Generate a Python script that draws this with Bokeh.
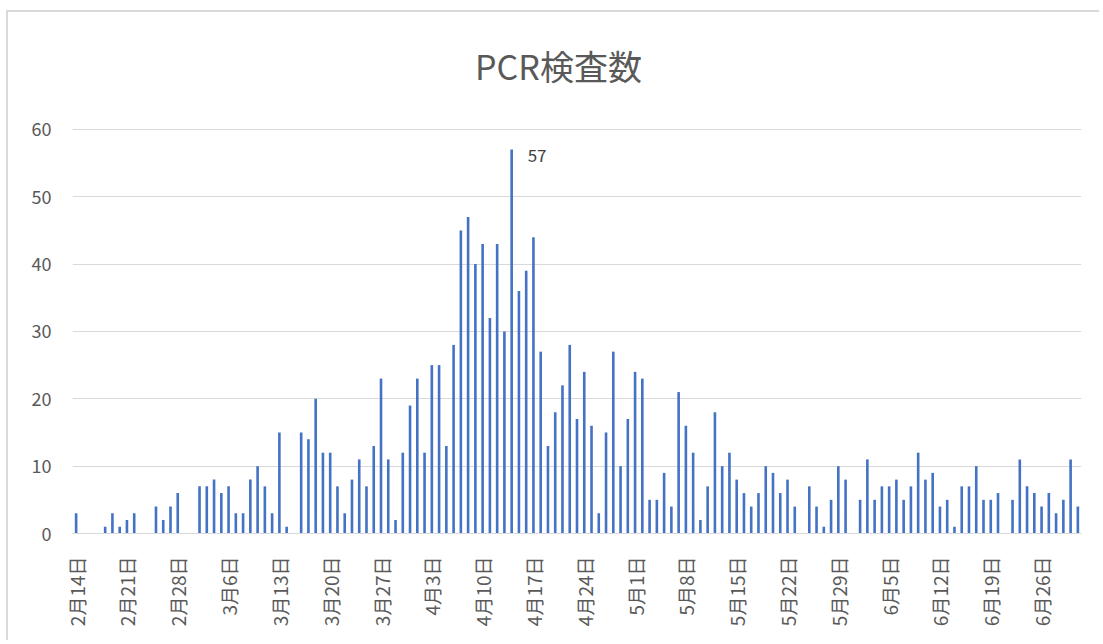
import pandas as pd
from bokeh.plotting import figure
from bokeh.models import ColumnDataSource, FixedTicker, Label, Range1d
from bokeh.embed import file_html
from bokeh.resources import INLINE

# ---- data ----
start_date = "2020-02-14"
pcr_counts = [
    3, 0, 0, 0, 1, 3, 1, 2, 3, 0,
    0, 4, 2, 4, 6, 0, 0, 7, 7, 8,
    6, 7, 3, 3, 8, 10, 7, 3, 15, 1,
    0, 15, 14, 20, 12, 12, 7, 3, 8, 11,
    7, 13, 23, 11, 2, 12, 19, 23, 12, 25,
    25, 13, 28, 45, 47, 40, 43, 32, 43, 30,
    57, 36, 39, 44, 27, 13, 18, 22, 28, 17,
    24, 16, 3, 15, 27, 10, 17, 24, 23, 5,
    5, 9, 4, 21, 16, 12, 2, 7, 18, 10,
    12, 8, 6, 4, 6, 10, 9, 6, 8, 4,
    0, 7, 4, 1, 5, 10, 8, 0, 5, 11,
    5, 7, 7, 8, 5, 7, 12, 8, 9, 4,
    5, 1, 7, 7, 10, 5, 5, 6, 0, 5,
    11, 7, 6, 4, 6, 3, 5, 11, 4,
]
tick_labels = [
    "2月14日", "2月21日", "2月28日", "3月6日", "3月13日", "3月20日", "3月27日",
    "4月3日", "4月10日", "4月17日", "4月24日", "5月1日", "5月8日", "5月15日",
    "5月22日", "5月29日", "6月5日", "6月12日", "6月19日", "6月26日",
]
y_ticks = [0, 10, 20, 30, 40, 50, 60]
title_text = "PCR検査数"

dates = pd.date_range(start_date, periods=len(pcr_counts))
idx = list(range(len(pcr_counts)))
src = ColumnDataSource(dict(x=idx, y=pcr_counts, date=[d.strftime("%m/%d") for d in dates]))

FONT = "Noto Sans CJK JP"
GRAY = "#595959"

W, H = 1093, 630
ML, MR, MT, MB = 64, 20, 28, 109
# the frame reaches above the 60 gridline so the title (drawn inside it) is not clipped
Y_TOP = 73.2

p = figure(
    width=W, height=H,
    output_backend="svg", toolbar_location=None,
    min_border_left=ML, min_border_right=MR, min_border_top=MT, min_border_bottom=MB,
    x_range=Range1d(-0.5, len(pcr_counts) - 0.5),
    y_range=Range1d(0, Y_TOP),
    styles={"border-left": "2px solid #d9d9d9", "border-top": "2px solid #d9d9d9",
            "margin-left": "6px", "margin-top": "10px"},
)
p.outline_line_color = None
p.background_fill_color = "white"
p.border_fill_color = "white"

p.vbar(x="x", top="y", width=0.36, bottom=0, source=src,
       fill_color="#4472C4", line_color=None)

# x axis
p.xaxis.ticker = FixedTicker(ticks=[i * 7 for i in range(len(tick_labels))])
p.xaxis.major_label_overrides = {i * 7: lab for i, lab in enumerate(tick_labels)}
p.xaxis.major_label_orientation = 1.5707963
p.xaxis.major_label_text_font = FONT
p.xaxis.major_label_text_font_size = "19px"
p.xaxis.major_label_text_color = GRAY
p.xaxis.major_label_standoff = 17
p.xaxis.axis_line_color = "#d9d9d9"
p.xaxis.major_tick_line_color = None
p.xaxis.minor_tick_line_color = None
p.xgrid.grid_line_color = None

# y axis
p.yaxis.ticker = FixedTicker(ticks=y_ticks)
p.yaxis.major_label_text_font = FONT
p.yaxis.major_label_text_font_size = "18px"
p.yaxis.major_label_text_color = GRAY
p.yaxis.major_label_standoff = 15
p.yaxis.axis_line_color = None
p.yaxis.major_tick_line_color = None
p.yaxis.minor_tick_line_color = None
p.ygrid.grid_line_color = "#d9d9d9"
p.ygrid.grid_line_width = 1

# title (screen units relative to the frame's bottom-left corner)
p.add_layout(Label(x=486, y=468, x_units="screen", y_units="screen",
                   text=title_text, text_font=FONT, text_font_size="34px", text_color=GRAY,
                   text_align="center", text_baseline="middle"))

# peak data label
peak_i = max(idx, key=lambda i: pcr_counts[i])
p.add_layout(Label(x=peak_i, y=pcr_counts[peak_i], text=str(pcr_counts[peak_i]),
                   x_offset=16, y_offset=-6, text_font=FONT, text_font_size="17px",
                   text_color="#404040", text_align="left", text_baseline="middle"))

open("out.html", "w").write(file_html(p, INLINE))
